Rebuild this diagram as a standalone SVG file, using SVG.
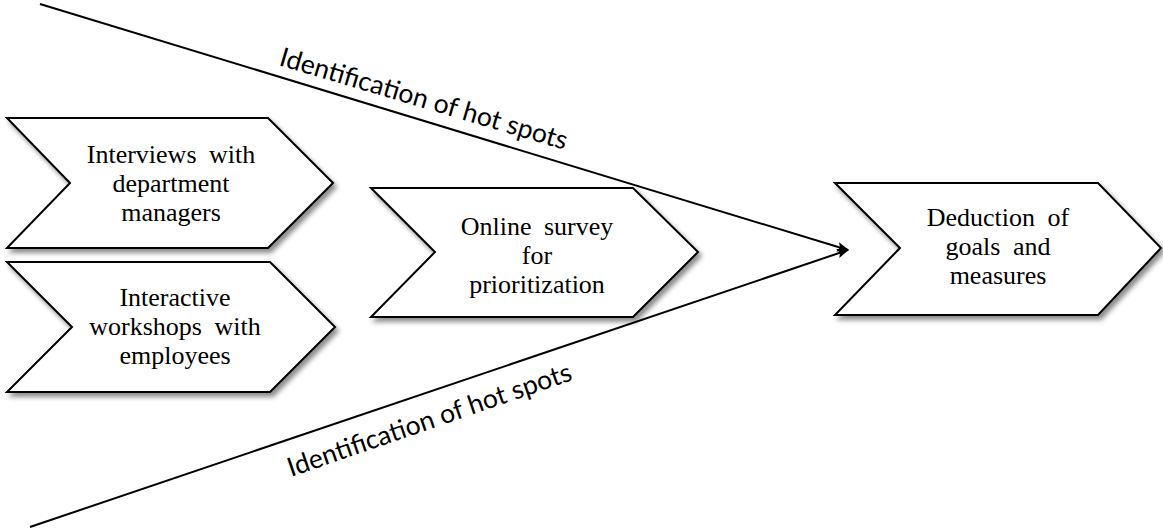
<svg xmlns="http://www.w3.org/2000/svg" width="1163" height="529" viewBox="0 0 1163 529">
<style>
.chev{fill:#fff;stroke:#000;stroke-width:2;stroke-linejoin:miter;filter:url(#sh)}
.t{font-family:"Liberation Serif","Times New Roman",serif;font-size:26px;word-spacing:6px;fill:#000;text-anchor:middle}
.lbl{font-family:Lato,"Open Sans",sans-serif;font-size:26.5px;fill:#000}
.conn{fill:none;stroke:#000;stroke-width:2}
</style>
<defs>
<filter id="sh" x="-10%" y="-10%" width="130%" height="140%">
<feDropShadow dx="3" dy="4" stdDeviation="2.5" flood-color="#000" flood-opacity="0.45"/>
</filter>
<marker id="ah" viewBox="0 0 10 10" refX="9" refY="5" markerWidth="6" markerHeight="6" orient="auto" markerUnits="strokeWidth">
<path d="M0,1 L10,5 L0,9 L2,5 Z" fill="#000"/>
</marker>
</defs>
<g id="n1">
<polygon class="chev" points="7,118 268,118 333,183 268,248 7,248 70,183"/>
<text class="t"><tspan x="171" y="163">Interviews with</tspan><tspan x="171" y="192">department</tspan><tspan x="171" y="221">managers</tspan></text>
</g>
<g id="n2">
<polygon class="chev" points="7,262 270,262 335,327 270,392 7,392 72,327"/>
<text class="t"><tspan x="175" y="306">Interactive</tspan><tspan x="175" y="335">workshops with</tspan><tspan x="175" y="364">employees</tspan></text>
</g>
<g id="n3">
<polygon class="chev" points="371,188 633,188 698,252 633,317 371,317 435,252"/>
<text class="t"><tspan x="537" y="235">Online survey</tspan><tspan x="537" y="264">for</tspan><tspan x="537" y="293">prioritization</tspan></text>
</g>
<g id="n4">
<polygon class="chev" points="835,183 1098,183 1161,248 1098,315 835,315 900,248"/>
<text class="t"><tspan x="998" y="226">Deduction of</tspan><tspan x="998" y="255">goals and</tspan><tspan x="998" y="284">measures</tspan></text>
</g>
<g id="connectors">
<line class="conn" x1="40" y1="4" x2="848" y2="250" marker-end="url(#ah)"/>
<line class="conn" x1="30" y1="527" x2="848" y2="250" marker-end="url(#ah)"/>
<text class="lbl" transform="translate(278,65) rotate(16.5)">Identification of hot spots</text>
<text class="lbl" transform="translate(291,477) rotate(-19)">Identification of hot spots</text>
</g>
</svg>
